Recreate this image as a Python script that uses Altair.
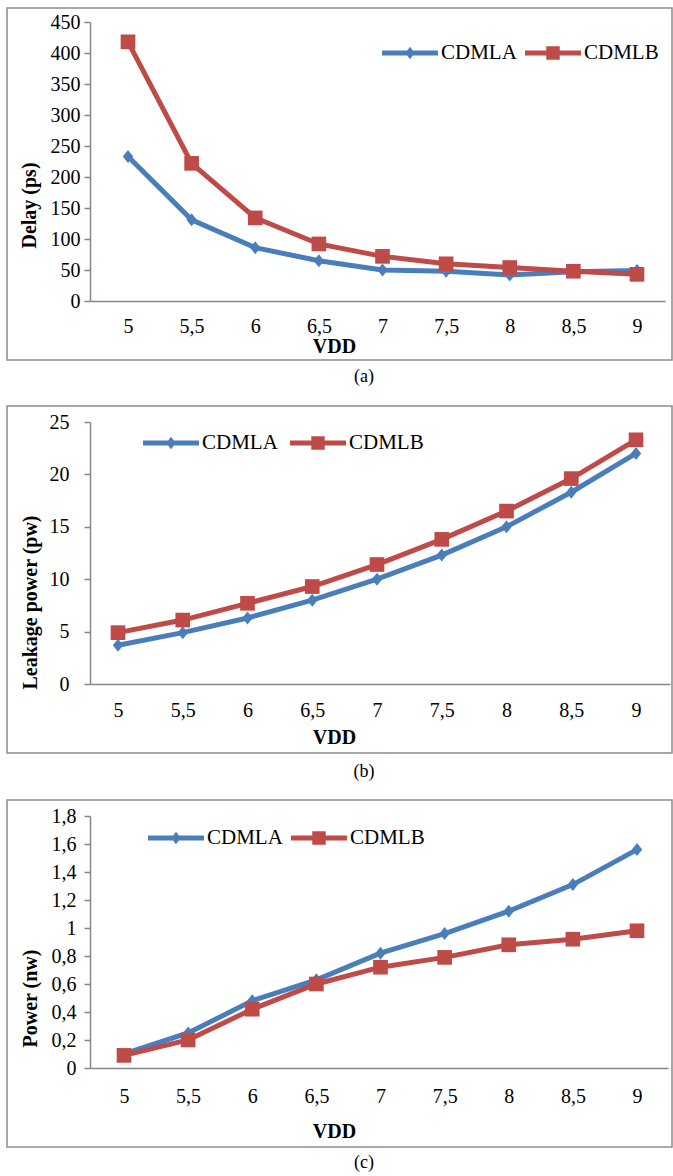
import altair as alt
import pandas as pd

# ---------------- data ----------------
vdd = [5, 5.5, 6, 6.5, 7, 7.5, 8, 8.5, 9]
series_names = ["CDMLA", "CDMLB"]

delay_cdmla = [233, 131, 86, 65, 50, 48, 42, 47, 49]
delay_cdmlb = [418, 222, 134, 92, 72, 60, 54, 48, 43]

leak_cdmla = [3.7, 4.9, 6.3, 8.0, 10.0, 12.3, 15.0, 18.3, 22.0]
leak_cdmlb = [4.9, 6.1, 7.7, 9.3, 11.4, 13.8, 16.5, 19.6, 23.3]

power_cdmla = [0.10, 0.25, 0.48, 0.63, 0.82, 0.96, 1.12, 1.31, 1.56]
power_cdmlb = [0.09, 0.20, 0.42, 0.60, 0.72, 0.79, 0.88, 0.92, 0.98]

delay_ticks = [0, 50, 100, 150, 200, 250, 300, 350, 400, 450]
leak_ticks = [0, 5, 10, 15, 20, 25]
power_ticks = [0, 0.2, 0.4, 0.6, 0.8, 1, 1.2, 1.4, 1.6, 1.8]

# ---------------- style ----------------
FONT = "Liberation Serif"
BLUE = "#4A7EBB"
RED = "#BE4B48"
AXIS_GRAY = "#868686"
BORDER_GRAY = "#8c8c8c"
DIAMOND = "M0,-1L0.8,0L0,1L-0.8,0Z"
LEG_DIAMOND = "M-1,-0.09L1,-0.09L1,0.09L-1,0.09Z M0,-0.22L0.17,0L0,0.22L-0.17,0Z"
LEG_SQUARE = "M-1,-0.09L1,-0.09L1,0.09L-1,0.09Z M-0.24,-0.24L0.24,-0.24L0.24,0.24L-0.24,0.24Z"
COMMA = "replace(format(datum.value, '.1~f'), '.', ',')"


def make_df(values, name):
    return pd.DataFrame({"VDD": vdd, "value": values, "series": name})


def panel(a_vals, b_vals, ytitle, yticks, ydom, height, yrange, xdom, width,
          leg, ytitle_pos, ylabpad, xtitle_y, xlabpad, border, caption, cap_y):
    x_enc = alt.X(
        "VDD:Q",
        scale=alt.Scale(domain=xdom, nice=False, zero=False),
        axis=alt.Axis(
            values=vdd, labelExpr=COMMA, ticks=False, tickSize=0, grid=False,
            labelPadding=xlabpad, labelFontSize=20, labelFont=FONT, labelColor="black",
            domainColor=AXIS_GRAY, domainWidth=1.5,
            title="VDD", titleFont=FONT, titleFontSize=20, titleFontWeight="bold",
            titleColor="black", titleX=244, titleY=xtitle_y, titleAlign="center",
            titleBaseline="middle",
        ),
    )
    yscale = alt.Scale(domain=ydom, nice=False, range=yrange) if yrange else alt.Scale(domain=ydom, nice=False)
    y_enc = alt.Y(
        "value:Q",
        scale=yscale,
        axis=alt.Axis(
            values=yticks, labelExpr=COMMA, tickSize=6, tickColor=AXIS_GRAY, tickWidth=1.5,
            grid=False, labelPadding=ylabpad, labelFontSize=20, labelFont=FONT,
            labelColor="black", domainColor=AXIS_GRAY, domainWidth=1.5,
            title=ytitle, titleFont=FONT, titleFontSize=20, titleFontWeight="bold",
            titleColor="black", titleX=ytitle_pos[0], titleY=ytitle_pos[1],
            titleAlign="center", titleBaseline="middle", titleAngle=270,
        ),
    )
    layers = []
    box = alt.Chart(pd.DataFrame({"k": [0]})).mark_rect(
        fill="white", fillOpacity=0, stroke=BORDER_GRAY, strokeWidth=1.5
    ).encode(
        x=alt.value(border[0]), x2=alt.value(border[1]),
        y=alt.value(border[2]), y2=alt.value(border[3]),
    )
    layers.append(box)
    for vals, name, color, lsym, lx, shape, msize in [
        (a_vals, series_names[0], BLUE, LEG_DIAMOND, leg[0], DIAMOND, 170),
        (b_vals, series_names[1], RED, LEG_SQUARE, leg[1], "square", 215),
    ]:
        df = make_df(vals, name)
        line = alt.Chart(df).mark_line(strokeWidth=5).encode(
            x=x_enc, y=y_enc,
            color=alt.Color("series:N", scale=alt.Scale(domain=[name], range=[color]), legend=None),
        )
        pts = alt.Chart(df).mark_point(filled=True, opacity=1, shape=shape, size=msize).encode(
            x=x_enc, y=y_enc,
            color=alt.Color(
                "series:N",
                scale=alt.Scale(domain=[name], range=[color]),
                legend=alt.Legend(
                    orient="none", legendX=lx, legendY=leg[2], title=None,
                    symbolType=lsym, symbolSize=3136, symbolFillColor=color,
                    symbolStrokeWidth=0, labelFont=FONT, labelFontSize=21,
                    labelColor="black", labelOffset=3, padding=0,
                ),
            ),
        )
        layers += [line, pts]
    cap = alt.Chart(pd.DataFrame({"k": [0]})).mark_text(
        font=FONT, fontSize=18, color="black", baseline="middle", align="center"
    ).encode(x=alt.value(274), y=alt.value(cap_y), text=alt.value(caption))
    layers.append(cap)
    return alt.layer(*layers).resolve_scale(color="independent").properties(
        width=width, height=height
    )


pa = panel(delay_cdmla, delay_cdmlb, "Delay (ps)", delay_ticks, [0, 450], 279, None,
           [4.7014, 9.2200], 575, (292, 435, 3), (-61, 183), 4, 45, 15,
           (-83, 582, -14, 338), "(a)", 355)
pb = panel(leak_cdmla, leak_cdmlb, "Leakage power (pw)", leak_ticks, [0, 25], 262, None,
           [4.7838, 9.2625], 580, (53, 200, -7), (-60, 180), 15, 53, 16,
           (-83, 582, -16, 331), "(b)", 350)
pc = panel(power_cdmla, power_cdmlb, "Power (nw)", power_ticks, [0, 1.8], 263, [263, 11],
           [4.7349, 9.2417], 578, (58, 201, 5), (-60, 193), 8, 63, 18,
           (-83, 582, -5, 342), "(c)", 358)

chart = alt.vconcat(pa, pb, pc, spacing=121, bounds="flush").properties(
    padding={"left": 6, "top": 7, "right": 0, "bottom": 0}
).configure_view(strokeWidth=0)

chart.save("out.html", embed_options={"renderer": "svg", "actions": False})
